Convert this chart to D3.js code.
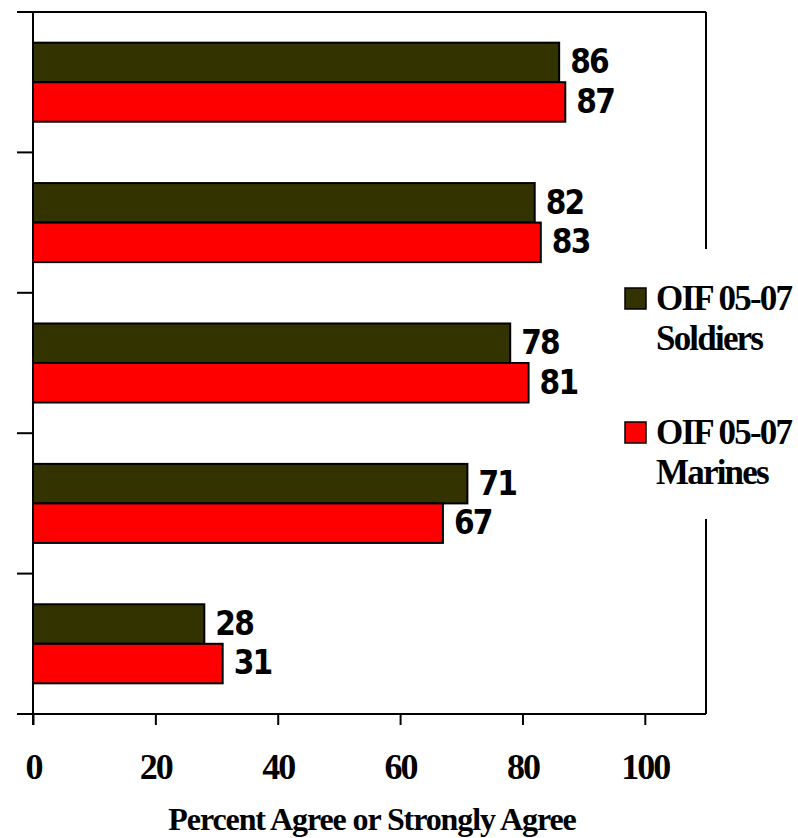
<!DOCTYPE html>
<html>
<head>
<meta charset="utf-8">
<script src="https://cdn.jsdelivr.net/npm/d3@7"></script>
<style>
  html, body { margin: 0; padding: 0; background: #fff; }
  svg { display: block; }
</style>
</head>
<body>
<svg id="chart" width="798" height="838"></svg>
<script>
// Survey items, top to bottom
const categories = ["item1", "item2", "item3", "item4", "item5"];
const seriesNames = ["OIF 05-07 Soldiers", "OIF 05-07 Marines"];
const soldiers = [86, 82, 78, 71, 28];
const marines = [87, 83, 81, 67, 31];
const xTicks = [0, 20, 40, 60, 80, 100];
const legendLines = [["OIF 05-07", "Soldiers"], ["OIF 05-07", "Marines"]];
const colors = ["#333300", "#ff0000"];
const axisTitle = "Percent Agree or Strongly Agree";

const svg = d3.select("#chart");
const plot = { left: 33, right: 706, top: 12, bottom: 714 };

const x = d3.scaleLinear().domain([0, 110]).range([plot.left, plot.right]);

const y = d3.scaleBand()
  .domain(categories)
  .range([plot.top, plot.bottom])
  .paddingInner(0.437)
  .paddingOuter(0.2185);

const ySub = d3.scaleBand()
  .domain(d3.range(seriesNames.length))
  .range([0, y.bandwidth()]);

const rows = categories.map((c, i) => ({ cat: c, values: [soldiers[i], marines[i]] }));

// frame: top edge and right edge (right edge interrupted by the legend)
svg.append("line")
  .attr("x1", 17).attr("x2", plot.right)
  .attr("y1", plot.top).attr("y2", plot.top)
  .attr("stroke", "#000").attr("stroke-width", 2);
svg.append("line")
  .attr("x1", plot.right).attr("x2", plot.right)
  .attr("y1", plot.top).attr("y2", 249)
  .attr("stroke", "#000").attr("stroke-width", 2);
svg.append("line")
  .attr("x1", plot.right).attr("x2", plot.right)
  .attr("y1", 519).attr("y2", plot.bottom)
  .attr("stroke", "#000").attr("stroke-width", 2);

// bars
const groups = svg.append("g").selectAll("g")
  .data(rows).join("g")
  .attr("transform", d => `translate(0,${y(d.cat)})`);

groups.selectAll("rect")
  .data(d => d.values.map((v, k) => ({ v, k })))
  .join("rect")
  .attr("x", x(0))
  .attr("y", d => ySub(d.k))
  .attr("width", d => x(d.v) - x(0))
  .attr("height", ySub.bandwidth())
  .attr("fill", d => colors[d.k])
  .attr("stroke", "#000")
  .attr("stroke-width", 2);

groups.selectAll("text")
  .data(d => d.values.map((v, k) => ({ v, k })))
  .join("text")
  .attr("x", d => x(d.v) + 11)
  .attr("y", d => ySub(d.k) + ySub.bandwidth() / 2 - 1)
  .attr("dy", "0.36em")
  .attr("font-family", "'DejaVu Sans Condensed', 'DejaVu Sans', sans-serif")
  .attr("font-weight", "bold")
  .attr("font-size", 33)
  .attr("letter-spacing", -1.8)
  .attr("fill", "#000")
  .text(d => d.v);

// category boundary ticks on the vertical axis
const step = y.step();
const boundaries = categories.map(c => y(c) - (step - y.bandwidth()) / 2).concat([plot.bottom]);
svg.append("g").selectAll("line")
  .data(boundaries).join("line")
  .attr("x1", 17).attr("x2", plot.left)
  .attr("y1", d => d).attr("y2", d => d)
  .attr("stroke", "#000").attr("stroke-width", 2);

svg.append("line")
  .attr("x1", plot.left).attr("x2", plot.left)
  .attr("y1", plot.top).attr("y2", 725)
  .attr("stroke", "#000").attr("stroke-width", 2);

// x axis
const xAxis = d3.axisBottom(x).tickValues(xTicks).tickSize(11).tickPadding(30);
const gx = svg.append("g")
  .attr("transform", `translate(0,${plot.bottom})`)
  .call(xAxis);
gx.select(".domain").remove();
gx.append("line")
  .attr("x1", 17).attr("x2", plot.right)
  .attr("y1", 0).attr("y2", 0)
  .attr("stroke", "#000").attr("stroke-width", 2);
gx.selectAll(".tick line").attr("stroke", "#000").attr("stroke-width", 2);
gx.selectAll(".tick text")
  .attr("y", 65).attr("dy", null)
  .attr("font-family", "'Liberation Serif', 'Times New Roman', serif")
  .attr("font-weight", "bold")
  .attr("font-size", 36)
  .attr("letter-spacing", -2)
  .attr("fill", "#000");

// axis title
svg.append("text")
  .attr("x", 372).attr("y", 830)
  .attr("text-anchor", "middle")
  .attr("font-family", "'Liberation Serif', 'Times New Roman', serif")
  .attr("font-weight", "bold")
  .attr("font-size", 32)
  .attr("letter-spacing", -1.1)
  .text(axisTitle);

// legend
const legend = svg.append("g").selectAll("g")
  .data(legendLines).join("g")
  .attr("transform", (d, i) => `translate(625,${288 + i * 134})`);
legend.append("rect")
  .attr("width", 21).attr("height", 21)
  .attr("fill", (d, i) => colors[i])
  .attr("stroke", "#000").attr("stroke-width", 1.5);
legend.append("text")
  .attr("font-family", "'Liberation Serif', 'Times New Roman', serif")
  .attr("font-weight", "bold")
  .attr("font-size", 35)
  .attr("letter-spacing", -1.8)
  .selectAll("tspan")
  .data(d => d).join("tspan")
  .attr("x", 31)
  .attr("y", (d, j) => 22 + j * 40)
  .text(d => d);
</script>
</body>
</html>
